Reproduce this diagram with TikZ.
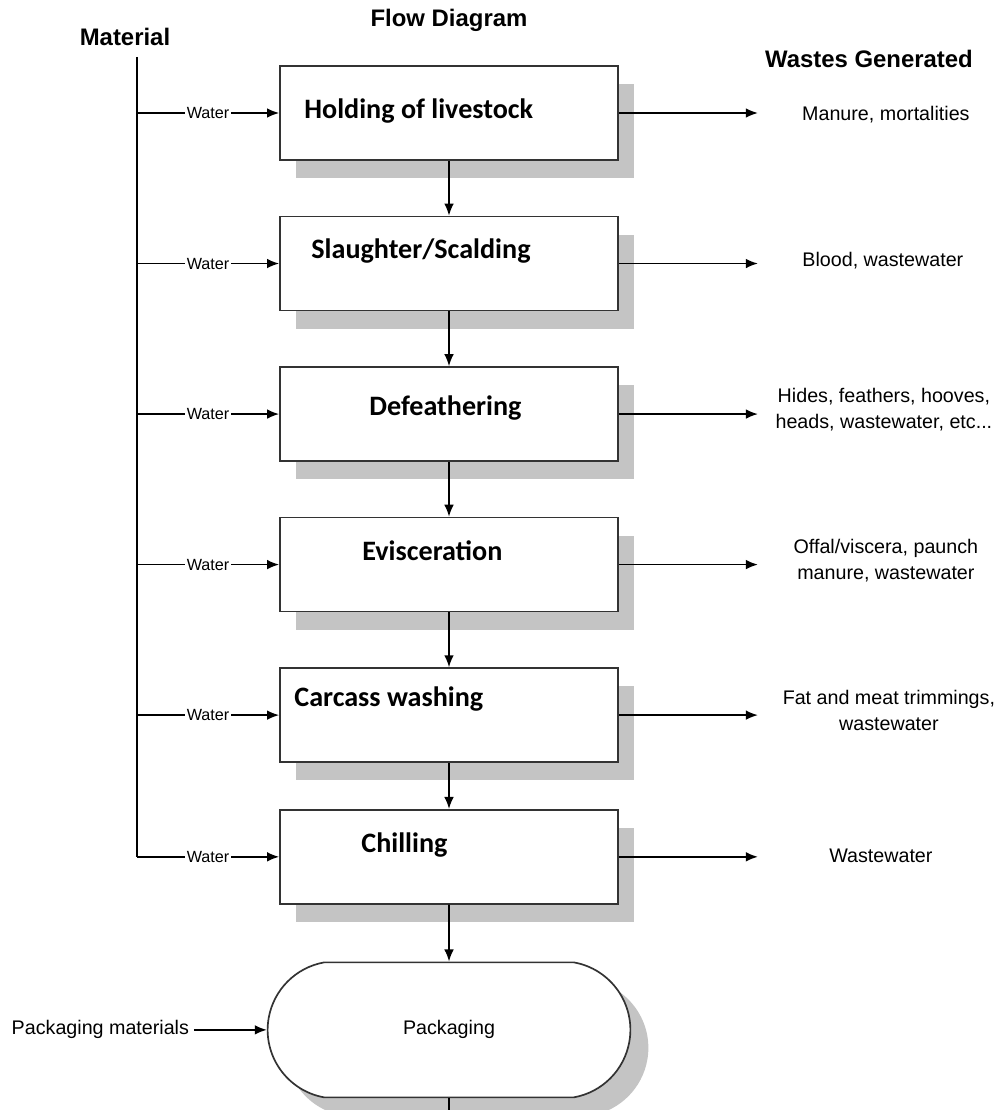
\documentclass[tikz,border=0pt]{standalone}
\usepackage{fontspec}
\setmainfont{Liberation Sans}
\newfontfamily\stagefont{Carlito}
\usepackage{tikz}
\usetikzlibrary{positioning,shadows,shapes.misc,arrows.meta}

\begin{document}
\begin{tikzpicture}[node distance=1.37cm,x=0.025cm,y=-0.025cm,
    stagebox/.style={draw=black!80,line width=1.2pt,fill=white,minimum width=8.45cm,minimum height=2.35cm,
      drop shadow={shadow xshift=0.4cm,shadow yshift=-0.45cm,fill=black!23,opacity=1}},
    packbox/.style={rounded rectangle,rounded rectangle arc length=160,draw=black!80,line width=1.2pt,fill=white,
      minimum width=9.3cm,minimum height=3.375cm,font=\fontsize{14}{18.5}\selectfont,
      drop shadow={shadow xshift=0.45cm,shadow yshift=-0.45cm,fill=black!23,opacity=1}},
    stagetext/.style={font=\stagefont\bfseries\fontsize{20}{24}\selectfont,anchor=base west,inner sep=0pt},
    waste/.style={font=\fontsize{14}{18.5}\selectfont,align=center},
    header/.style={font=\bfseries\fontsize{17}{20}\selectfont},
    water/.style={font=\fontsize{11.5}{13}\selectfont,fill=white,inner sep=1pt},
    arr/.style={-{Latex[length=3mm,width=2.4mm]},line width=1.1pt}]
  \useasboundingbox (0,0) rectangle (1001,1110);

  % headings
  \node[header] (title) at (449,20) {Flow Diagram};
  \node[header] (material) at (125,37) {Material};
  \node[header] (wastes) at (869,59) {Wastes Generated};

  % process steps
  \node[stagebox] (hold) at (449,113) {};
  \node[stagebox] (slau) [below=of hold] {};
  \node[stagebox] (defe) [below=of slau] {};
  \node[stagebox] (evis) [below=of defe] {};
  \node[stagebox] (wash) [below=of evis] {};
  \node[stagebox] (chil) [below=1.15cm of wash] {};
  \node[packbox] (pack) [below=1.42cm of chil] {Packaging};

  \path (hold.west) ++(25,6) node[stagetext] (thold) {Holding of livestock};
  \path (slau.west) ++(32,-5) node[stagetext] (tslau) {Slaughter/Scalding};
  \path (defe.west) ++(90,1) node[stagetext] (tdefe) {Defeathering};
  \path (evis.west) ++(83,-4) node[stagetext] (tevis) {Evisceration};
  \path (wash.west) ++(15,-9) node[stagetext] (twash) {Carcass washing};
  \path (chil.west) ++(82,-4) node[stagetext] (tchil) {Chilling};

  % wastes
  \path (hold.east) ++(267,2) node[waste] (w1) {Manure, mortalities};
  \path (slau.east) ++(264,-3) node[waste] (w2) {Blood, wastewater};
  \path (defe.east) ++(265,-4) node[waste] (w3) {Hides, feathers, hooves,\\heads, wastewater, etc...};
  \path (evis.east) ++(267,-4) node[waste] (w4) {Offal/viscera, paunch\\manure, wastewater};
  \path (wash.east) ++(270,-5) node[waste] (w5) {Fat and meat trimmings,\\wastewater};
  \path (chil.east) ++(262,-1) node[waste] (w6) {Wastewater};
  \foreach \s/\e in {hold/e1,slau/e2,defe/e3,evis/e4,wash/e5,chil/e6}
    \path (\s.east) ++(139,0) coordinate (\e);

  \node[waste] (pmat) [left=1.82cm of pack] {Packaging materials};
  \coordinate (mat) at (137,57);
  \coordinate (out) at (449,1110);

  % connectors
  \draw[line width=1.1pt] (mat) -- (chil.west -| mat);
  \foreach \s in {hold,slau,defe,evis,wash,chil}
    \draw[arr] (\s.west -| mat) -- node[water] {Water} (\s.west);
  \path[arr] (hold) edge (slau)
        (slau) edge (defe)
        (defe) edge (evis)
        (evis) edge (wash)
        (wash) edge (chil)
        (chil) edge (pack);
  \path[arr] (hold.east) edge (e1)
        (slau.east) edge (e2)
        (defe.east) edge (e3)
        (evis.east) edge (e4)
        (wash.east) edge (e5)
        (chil.east) edge (e6);
  \draw[arr] (pmat.east) -- (pack.west);
  \draw[line width=1.1pt] (pack) -- (out);
\end{tikzpicture}
\end{document}
